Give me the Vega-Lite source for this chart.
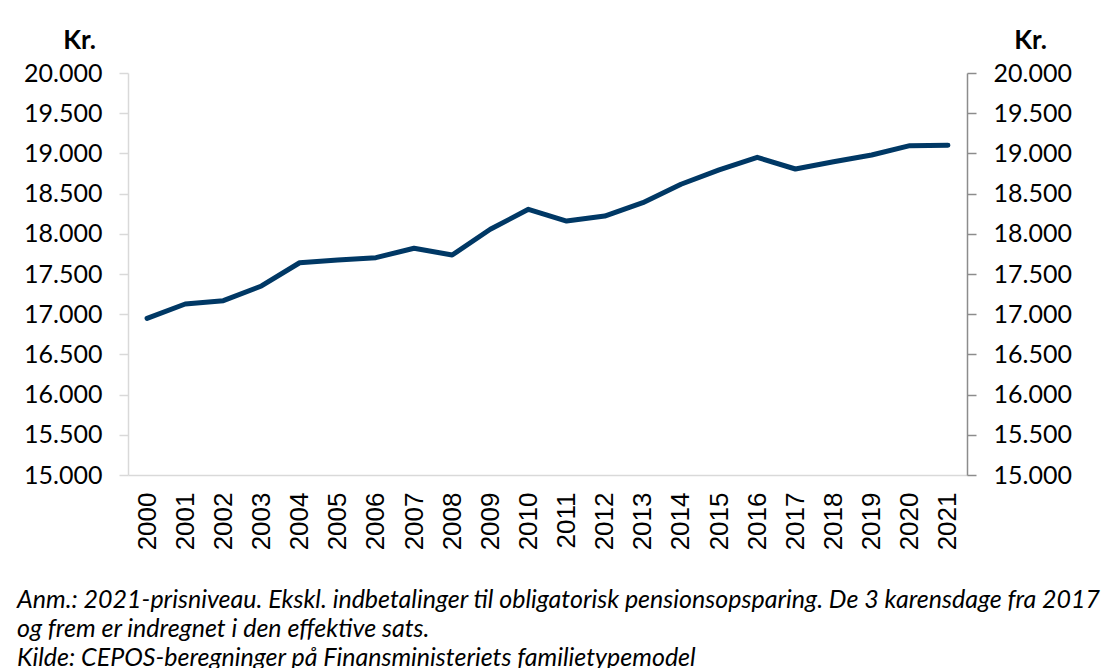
{
  "$schema": "https://vega.github.io/schema/vega-lite/v6.json",
  "autosize": "none",
  "width": 839,
  "height": 402,
  "padding": {"left": 128, "top": 73, "right": 143, "bottom": 193},
  "background": "white",
  "config": {
    "view": {"stroke": null},
    "locale": {"number": {"decimal": ",", "thousands": ".", "grouping": [3], "currency": ["", " kr."]}},
    "font": "Lato"
  },
  "title": {
    "text": [
      "Anm.: 2021-prisniveau. Ekskl. indbetalinger til obligatorisk pensionsopsparing. De 3 karensdage fra 2017",
      "og frem er indregnet i den effektive sats.",
      "Kilde: CEPOS-beregninger på Finansministeriets familietypemodel"
    ],
    "orient": "bottom",
    "anchor": "start",
    "frame": "group",
    "dx": -111,
    "offset": 38,
    "font": "Lato",
    "fontStyle": "italic",
    "fontWeight": "normal",
    "fontSize": 25,
    "lineHeight": 29,
    "color": "#000000",
    "baseline": "top"
  },
  "data": {
    "values": [
      {"year": "2000", "kr": 16949},
      {"year": "2001", "kr": 17127},
      {"year": "2002", "kr": 17168},
      {"year": "2003", "kr": 17351},
      {"year": "2004", "kr": 17640},
      {"year": "2005", "kr": 17674},
      {"year": "2006", "kr": 17703},
      {"year": "2007", "kr": 17820},
      {"year": "2008", "kr": 17736},
      {"year": "2009", "kr": 18056},
      {"year": "2010", "kr": 18305},
      {"year": "2011", "kr": 18159},
      {"year": "2012", "kr": 18221},
      {"year": "2013", "kr": 18387},
      {"year": "2014", "kr": 18616},
      {"year": "2015", "kr": 18794},
      {"year": "2016", "kr": 18951},
      {"year": "2017", "kr": 18806},
      {"year": "2018", "kr": 18897},
      {"year": "2019", "kr": 18980},
      {"year": "2020", "kr": 19096},
      {"year": "2021", "kr": 19101}
    ]
  },
  "encoding": {
    "x": {
      "field": "year",
      "type": "ordinal",
      "scale": {"padding": 0.5},
      "axis": {
        "title": null,
        "labelAngle": -90,
        "labelAlign": "right",
        "labelBaseline": "middle",
        "labelFont": "Liberation Sans",
        "labelFontSize": 26,
        "labelColor": "#000000",
        "labelPadding": 17,
        "ticks": false,
        "domainColor": "#d9d9d9",
        "domainWidth": 1.5,
        "grid": false
      }
    }
  },
  "layer": [
    {
      "mark": {"type": "line", "strokeOpacity": 0},
      "encoding": {
        "y": {
          "field": "kr",
          "type": "quantitative",
          "scale": {"domain": [15000, 20000], "zero": false, "nice": false},
          "axis": {
            "orient": "left",
            "values": [15000, 15500, 16000, 16500, 17000, 17500, 18000, 18500, 19000, 19500, 20000],
            "format": ",.0f",
            "grid": false,
            "title": "Kr.",
            "titleAngle": 0,
            "titleX": -49,
            "titleY": -25,
            "titleAlign": "center",
            "titleBaseline": "alphabetic",
            "titleFont": "Lato",
            "titleFontSize": 26,
            "titleFontWeight": "bold",
            "titleColor": "#000000",
            "labelFont": "Lato",
            "labelFontSize": 25,
            "labelColor": "#000000",
            "labelPadding": 17,
            "tickSize": 9,
            "tickColor": "#d9d9d9",
            "tickWidth": 1.5,
            "domainColor": "#d9d9d9",
            "domainWidth": 1.5
          }
        }
      }
    },
    {
      "mark": {"type": "line", "color": "#003865", "strokeWidth": 5, "strokeCap": "round", "strokeJoin": "round"},
      "encoding": {
        "y": {
          "field": "kr",
          "type": "quantitative",
          "scale": {"domain": [15000, 20000], "zero": false, "nice": false},
          "axis": {
            "orient": "right",
            "values": [15000, 15500, 16000, 16500, 17000, 17500, 18000, 18500, 19000, 19500, 20000],
            "format": ",.0f",
            "grid": false,
            "title": "Kr.",
            "titleAngle": 0,
            "titleX": 63,
            "titleY": -25,
            "titleAlign": "center",
            "titleBaseline": "alphabetic",
            "titleFont": "Lato",
            "titleFontSize": 26,
            "titleFontWeight": "bold",
            "titleColor": "#000000",
            "labelFont": "Lato",
            "labelFontSize": 25,
            "labelColor": "#000000",
            "labelPadding": 17,
            "tickSize": 9,
            "tickColor": "#8c8c8c",
            "tickWidth": 1.5,
            "domainColor": "#8c8c8c",
            "domainWidth": 1.5
          }
        }
      }
    }
  ],
  "resolve": {"axis": {"y": "independent"}}
}
